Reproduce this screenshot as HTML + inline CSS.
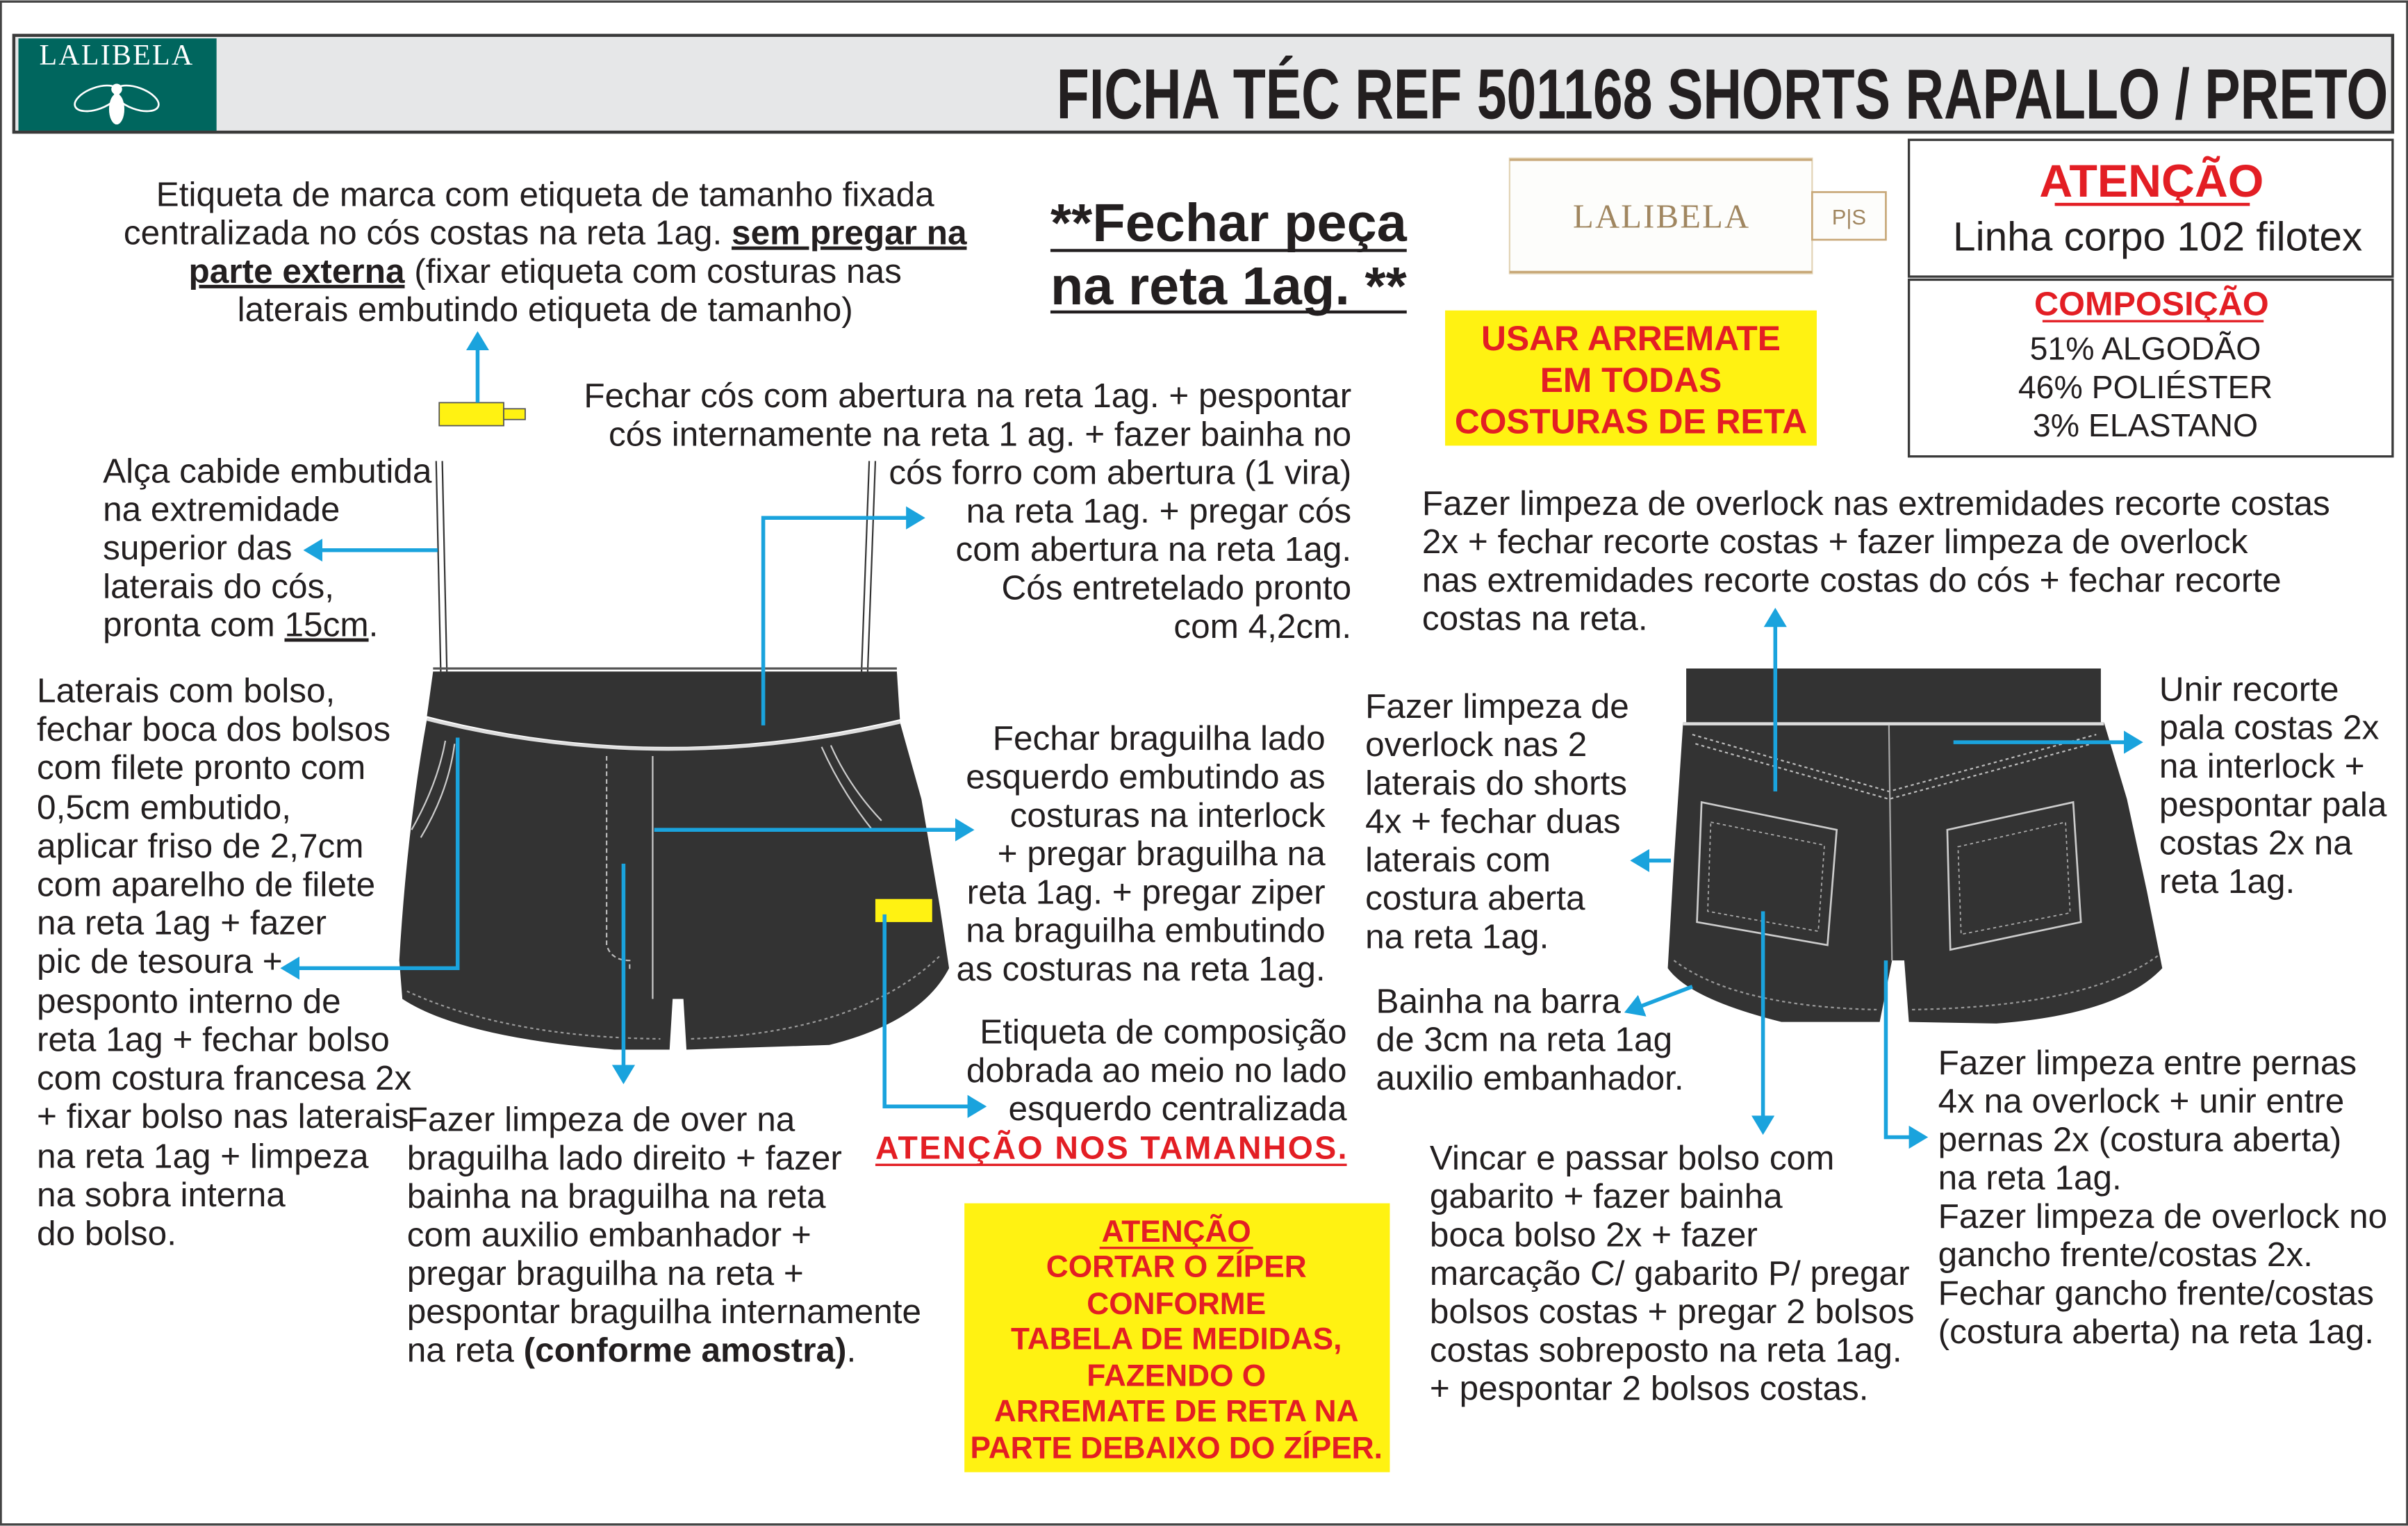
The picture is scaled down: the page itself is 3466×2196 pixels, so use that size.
<!DOCTYPE html>
<html><head><meta charset="utf-8"><style>
html,body{margin:0;padding:0;background:#fff;}
svg{display:block;}
text{font-family:"Liberation Sans",Arial,sans-serif;fill:#231f20;}
.t{font-size:22.4px;}
.r{text-anchor:end;}
.c{text-anchor:middle;}
.red{fill:#e31e24;font-weight:bold;}
</style></head><body>
<svg width="3466" height="2196" viewBox="0 0 1568 993" preserveAspectRatio="none" xmlns="http://www.w3.org/2000/svg">
<defs>
<marker id="a" markerWidth="6" markerHeight="6" refX="4" refY="3" orient="auto" markerUnits="strokeWidth">
<path d="M0,0 L5,3 L0,6 Z" fill="#1aa3dd"/></marker>
</defs>
<rect x="0.5" y="1" width="1567" height="991" fill="#fff" stroke="#444" stroke-width="1.5"/>
<!-- header -->
<rect x="9" y="23" width="1549" height="63" fill="#e6e7e8" stroke="#3a3a3a" stroke-width="2"/>
<rect x="12" y="25" width="129" height="60" fill="#00665e"/>
<text x="76" y="42" class="c" style="font-family:'Liberation Serif',serif;font-size:19px;fill:#fff;letter-spacing:1px">LALIBELA</text>
<g fill="none" stroke="#fff" stroke-width="1.2">
<ellipse cx="63" cy="64" rx="15" ry="7" transform="rotate(-20 63 64)"/>
<ellipse cx="89" cy="64" rx="15" ry="7" transform="rotate(20 89 64)"/>
</g>
<ellipse cx="76" cy="71" rx="5" ry="10" fill="#fff"/>
<circle cx="76" cy="58" r="3.5" fill="#fff"/>
<text x="688" y="77" textLength="867" lengthAdjust="spacingAndGlyphs" style="font-size:46px;font-weight:bold">FICHA TÉC REF 501168 SHORTS RAPALLO / PRETO</text>

<!-- Text A -->
<text x="355" y="134" class="c t">Etiqueta de marca com etiqueta de tamanho fixada</text>
<text x="355" y="159" class="c t">centralizada no cós costas na reta 1ag. <tspan font-weight="bold" text-decoration="underline">sem pregar na</tspan></text>
<text x="355" y="184" class="c t"><tspan font-weight="bold" text-decoration="underline">parte externa</tspan> (fixar etiqueta com costuras nas</text>
<text x="355" y="209" class="c t">laterais embutindo etiqueta de tamanho)</text>

<!-- B -->
<text x="684" y="157" textLength="232" style="font-size:35px;font-weight:bold">**Fechar peça</text>
<text x="684" y="198" textLength="232" style="font-size:35px;font-weight:bold">na reta 1ag. **</text>
<line x1="684" y1="163" x2="916" y2="163" stroke="#231f20" stroke-width="2"/>
<line x1="684" y1="203" x2="916" y2="203" stroke="#231f20" stroke-width="2"/>

<!-- label image -->
<rect x="983" y="103" width="197" height="75" fill="#fdfdfb" stroke="#e2d3b5" stroke-width="1"/>
<line x1="983" y1="104" x2="1180" y2="104" stroke="#c8a878" stroke-width="1.5"/>
<line x1="983" y1="177" x2="1180" y2="177" stroke="#c8a878" stroke-width="1.5"/>
<text x="1082" y="148" class="c" style="font-family:'Liberation Serif',serif;font-size:22px;fill:#a08660;letter-spacing:1px">LALIBELA</text>
<rect x="1180" y="125" width="48" height="31" fill="#fdfdfb" stroke="#c8a878" stroke-width="1.2"/>
<text x="1204" y="146" class="c" style="font-size:14px;fill:#a08660">P|S</text>

<!-- Atencao box -->
<rect x="1243" y="91" width="315" height="89" fill="#fff" stroke="#3a3a3a" stroke-width="1.5"/>
<text x="1401" y="128" class="c red" style="font-size:30px">ATENÇÃO</text>
<line x1="1338" y1="133" x2="1465" y2="133" stroke="#e31e24" stroke-width="2"/>
<text x="1405" y="163" class="c" style="font-size:26.5px">Linha corpo 102 filotex</text>
<rect x="1243" y="182" width="315" height="115" fill="#fff" stroke="#3a3a3a" stroke-width="1.5"/>
<text x="1401" y="205" class="c red" style="font-size:22px">COMPOSIÇÃO</text>
<line x1="1330" y1="209" x2="1474" y2="209" stroke="#e31e24" stroke-width="1.5"/>
<text x="1397" y="234" class="c" style="font-size:21px">51% ALGODÃO</text>
<text x="1397" y="259" class="c" style="font-size:21px">46% POLIÉSTER</text>
<text x="1397" y="284" class="c" style="font-size:21px">3% ELASTANO</text>

<!-- yellow boxes -->
<rect x="941" y="202" width="242" height="88" fill="#fff212"/>
<text x="1062" y="228" class="c red" style="font-size:22.5px">USAR ARREMATE</text>
<text x="1062" y="255" class="c red" style="font-size:22.5px">EM TODAS</text>
<text x="1062" y="282" class="c red" style="font-size:22.5px">COSTURAS DE RETA</text>

<rect x="628" y="783" width="277" height="175" fill="#fff212"/>
<text x="766" y="808" class="c red" style="font-size:20px">ATENÇÃO</text>
<text x="766" y="831" class="c red" style="font-size:20px">CORTAR O ZÍPER</text>
<text x="766" y="855" class="c red" style="font-size:20px">CONFORME</text>
<text x="766" y="878" class="c red" style="font-size:20px">TABELA DE MEDIDAS,</text>
<text x="766" y="902" class="c red" style="font-size:20px">FAZENDO O</text>
<text x="766" y="925" class="c red" style="font-size:20px">ARREMATE DE RETA NA</text>
<text x="766" y="949" class="c red" style="font-size:20px">PARTE DEBAIXO DO ZÍPER.</text>
<line x1="716" y1="812" x2="816" y2="812" stroke="#e31e24" stroke-width="1.5"/>

<!-- C -->
<text x="880" y="265" class="t r">Fechar cós com abertura na  reta 1ag. + pespontar</text>
<text x="880" y="290" class="t r">cós internamente na reta 1 ag. + fazer  bainha no</text>
<text x="880" y="315" class="t r">cós forro com abertura (1 vira)</text>
<text x="880" y="340" class="t r">na reta 1ag.  + pregar cós</text>
<text x="880" y="365" class="t r">com abertura na reta 1ag.</text>
<text x="880" y="390" class="t r">Cós entretelado pronto</text>
<text x="880" y="415" class="t r">com 4,2cm.</text>

<!-- D -->
<text x="67" y="314" class="t">Alça cabide embutida</text>
<text x="67" y="339" class="t">na extremidade</text>
<text x="67" y="364" class="t">superior das</text>
<text x="67" y="389" class="t">laterais do cós,</text>
<text x="67" y="414" class="t">pronta com <tspan text-decoration="underline">15cm</tspan>.</text>

<!-- E -->
<text x="24" y="457" class="t">Laterais com bolso,</text>
<text x="24" y="482" class="t">fechar boca dos bolsos</text>
<text x="24" y="507" class="t">com filete pronto com</text>
<text x="24" y="533" class="t">0,5cm embutido,</text>
<text x="24" y="558" class="t">aplicar friso de 2,7cm</text>
<text x="24" y="583" class="t">com aparelho de filete</text>
<text x="24" y="608" class="t">na reta 1ag + fazer</text>
<text x="24" y="633" class="t">pic de tesoura +</text>
<text x="24" y="659" class="t">pesponto interno de</text>
<text x="24" y="684" class="t">reta 1ag + fechar bolso</text>
<text x="24" y="709" class="t">com costura francesa 2x</text>
<text x="24" y="734" class="t">+ fixar bolso nas laterais</text>
<text x="24" y="760" class="t">na reta 1ag + limpeza</text>
<text x="24" y="785" class="t">na sobra interna</text>
<text x="24" y="810" class="t">do bolso.</text>

<!-- F -->
<text x="265" y="736" class="t">Fazer limpeza de over na</text>
<text x="265" y="761" class="t">braguilha lado direito + fazer</text>
<text x="265" y="786" class="t">bainha na braguilha na reta</text>
<text x="265" y="811" class="t">com auxilio embanhador +</text>
<text x="265" y="836" class="t">pregar braguilha na reta +</text>
<text x="265" y="861" class="t">pespontar braguilha internamente</text>
<text x="265" y="886" class="t">na reta <tspan font-weight="bold">(conforme amostra)</tspan>.</text>

<!-- G -->
<text x="863" y="488" class="t r">Fechar braguilha lado</text>
<text x="863" y="513" class="t r">esquerdo embutindo as</text>
<text x="863" y="538" class="t r">costuras na interlock</text>
<text x="863" y="563" class="t r">+ pregar braguilha na</text>
<text x="863" y="588" class="t r">reta 1ag. + pregar ziper</text>
<text x="863" y="613" class="t r">na braguilha embutindo</text>
<text x="863" y="638" class="t r">as costuras na reta 1ag.</text>

<!-- H -->
<text x="877" y="679" class="t r">Etiqueta de composição</text>
<text x="877" y="704" class="t r">dobrada ao meio no lado</text>
<text x="877" y="729" class="t r">esquerdo centralizada</text>
<text x="877" y="754" class="r red" textLength="307" style="font-size:21px">ATENÇÃO NOS TAMANHOS.</text>
<line x1="570" y1="758" x2="877" y2="758" stroke="#e31e24" stroke-width="1.5"/>

<!-- N -->
<text x="926" y="335" class="t">Fazer limpeza de overlock nas extremidades recorte costas</text>
<text x="926" y="360" class="t">2x + fechar recorte costas + fazer limpeza de overlock</text>
<text x="926" y="385" class="t">nas extremidades recorte costas do cós + fechar recorte</text>
<text x="926" y="410" class="t">costas na reta.</text>

<!-- O -->
<text x="889" y="467" class="t">Fazer limpeza de</text>
<text x="889" y="492" class="t">overlock nas 2</text>
<text x="889" y="517" class="t">laterais do shorts</text>
<text x="889" y="542" class="t">4x + fechar duas</text>
<text x="889" y="567" class="t">laterais com</text>
<text x="889" y="592" class="t">costura aberta</text>
<text x="889" y="617" class="t">na reta 1ag.</text>

<!-- P -->
<text x="1406" y="456" class="t">Unir recorte</text>
<text x="1406" y="481" class="t">pala costas 2x</text>
<text x="1406" y="506" class="t">na interlock +</text>
<text x="1406" y="531" class="t">pespontar pala</text>
<text x="1406" y="556" class="t">costas 2x na</text>
<text x="1406" y="581" class="t">reta 1ag.</text>

<!-- Q -->
<text x="896" y="659" class="t">Bainha na barra</text>
<text x="896" y="684" class="t">de 3cm na reta 1ag</text>
<text x="896" y="709" class="t">auxilio embanhador.</text>

<!-- R -->
<text x="931" y="761" class="t">Vincar e passar bolso com</text>
<text x="931" y="786" class="t">gabarito + fazer bainha</text>
<text x="931" y="811" class="t">boca bolso 2x +  fazer</text>
<text x="931" y="836" class="t">marcação C/ gabarito P/ pregar</text>
<text x="931" y="861" class="t">bolsos costas + pregar 2 bolsos</text>
<text x="931" y="886" class="t">costas sobreposto na reta 1ag.</text>
<text x="931" y="911" class="t">+ pespontar 2 bolsos costas.</text>

<!-- S -->
<text x="1262" y="699" class="t">Fazer limpeza entre pernas</text>
<text x="1262" y="724" class="t">4x na overlock + unir entre</text>
<text x="1262" y="749" class="t">pernas 2x (costura aberta)</text>
<text x="1262" y="774" class="t">na reta 1ag.</text>
<text x="1262" y="799" class="t">Fazer limpeza de overlock no</text>
<text x="1262" y="824" class="t">gancho frente/costas 2x.</text>
<text x="1262" y="849" class="t">Fechar gancho frente/costas</text>
<text x="1262" y="874" class="t">(costura aberta) na reta 1ag.</text>

<!-- FRONT SHORTS -->
<g stroke="#333" stroke-width="1" fill="none">
<path d="M284 300 L287 437 M288 300 L291 437"/>
<path d="M566 300 L561 437 M570 300 L565 437"/>
</g>
<rect x="286" y="262" width="42" height="15" fill="#fff212" stroke="#555" stroke-width="0.8"/>
<rect x="328" y="266" width="14" height="7" fill="#fff212" stroke="#555" stroke-width="0.8"/>
<line x1="282" y1="435" x2="584" y2="435" stroke="#555" stroke-width="1.5"/>
<path d="M282 437 L584 437 L586 468 Q430 505 278 466 Z" fill="#333"/>
<path d="M278 468 Q430 505 586 470 L600 520 L612 590 L618 630 Q600 665 540 680 L447 683 L445 650 L438 650 L436 683 L400 683 Q300 675 262 650 L260 625 Q265 540 278 468 Z" fill="#333"/>
<path d="M278 468 Q430 506 586 470" stroke="#ddd" stroke-width="2" fill="none"/>
<path d="M290 482 Q285 510 268 540 M296 484 Q292 515 274 545" stroke="#ccc" stroke-width="1" fill="none"/>
<path d="M535 486 Q548 515 568 540 M541 485 Q553 512 574 534" stroke="#ccc" stroke-width="1" fill="none"/>
<path d="M395 492 L395 615 Q398 625 410 625 L410 632" stroke="#bbb" stroke-width="1" stroke-dasharray="3 2" fill="none"/>
<path d="M425 492 L425 650" stroke="#ccc" stroke-width="1" fill="none"/>
<path d="M265 645 Q330 675 430 676 M450 676 Q560 672 612 622" stroke="#999" stroke-width="1" stroke-dasharray="2 2" fill="none"/>
<rect x="570" y="585" width="37" height="15" fill="#fff212"/>

<!-- BACK SHORTS -->
<path d="M1098 435 L1368 435 L1368 470 L1098 470 Z" fill="#333"/>
<path d="M1096 470 L1370 470 L1385 520 L1398 580 L1408 630 Q1380 660 1300 666 L1243 665 L1240 625 L1232 625 L1224 665 L1160 665 Q1100 650 1086 630 L1090 560 Z" fill="#333"/>
<path d="M1096 471 L1370 471" stroke="#ddd" stroke-width="2"/>
<path d="M1102 478 L1230 515 L1365 478 M1104 484 L1230 520 L1362 484" stroke="#bbb" stroke-width="1" stroke-dasharray="2 2" fill="none"/>
<path d="M1230 472 L1232 625" stroke="#aaa" stroke-width="1"/>
<path d="M1108 522 L1196 540 L1190 615 L1105 600 Z" fill="none" stroke="#ccc" stroke-width="1.2"/>
<path d="M1114 535 L1188 550 L1184 606 L1112 593 Z" fill="none" stroke="#aaa" stroke-width="0.8" stroke-dasharray="2 2"/>
<path d="M1268 540 L1350 522 L1355 600 L1270 618 Z" fill="none" stroke="#ccc" stroke-width="1.2"/>
<path d="M1275 551 L1345 535 L1348 594 L1277 608 Z" fill="none" stroke="#aaa" stroke-width="0.8" stroke-dasharray="2 2"/>
<path d="M1090 625 Q1130 655 1222 657 M1245 657 Q1360 655 1405 622" stroke="#999" stroke-width="1" stroke-dasharray="2 2" fill="none"/>

<!-- ARROWS -->
<g stroke="#1aa3dd" stroke-width="2.5" fill="none" marker-end="url(#a)">
<path d="M311 262 L311 218"/>
<path d="M285 358 L200 358"/>
<path d="M497 472 L497 337 L600 337"/>
<path d="M298 480 L298 630 L185 630"/>
<path d="M426 540 L632 540"/>
<path d="M406 562 L406 703"/>
<path d="M576 595 L576 720 L640 720"/>
<path d="M1156 515 L1156 398"/>
<path d="M1088 560 L1064 560"/>
<path d="M1272 483 L1393 483"/>
<path d="M1102 642 L1060 658"/>
<path d="M1148 593 L1148 736"/>
<path d="M1228 625 L1228 740 L1253 740"/>
</g>
</svg>
</body></html>
